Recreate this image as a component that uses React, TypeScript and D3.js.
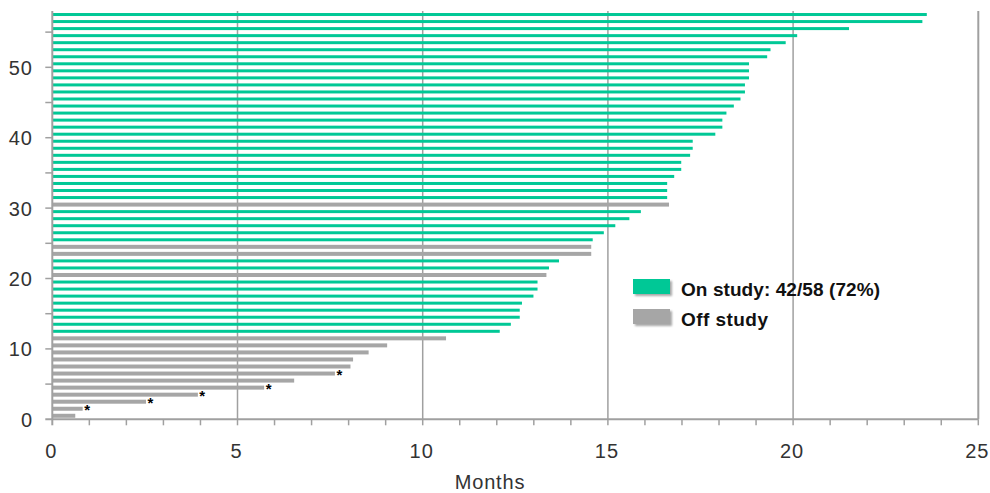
import React from "react";
import * as d3 from "d3";

// Months on study for each patient, patient 1 (bottom) to 58 (top)
const months: number[] = [
  0.62, 0.82, 2.53, 3.93, 5.72, 6.53, 7.63, 8.05, 8.12, 8.54,
  9.04, 10.63, 12.08, 12.38, 12.62, 12.62, 12.68, 12.99, 13.1, 13.1,
  13.34, 13.41, 13.68, 14.55, 14.55, 14.59, 14.89, 15.2, 15.58, 15.89,
  16.65, 16.6, 16.6, 16.6, 16.79, 16.98, 16.98, 17.22, 17.29, 17.29,
  17.9, 18.09, 18.09, 18.2, 18.4, 18.58, 18.7, 18.7, 18.81, 18.81,
  18.81, 19.3, 19.39, 19.8, 20.11, 21.51, 23.49, 23.61,
];
// Patients who went off study
const offStudyIds: number[] = [1, 2, 3, 4, 5, 6, 7, 8, 9, 10, 11, 12, 21, 24, 25, 31];
// Patients flagged with an asterisk
const starredIds: number[] = [2, 3, 4, 5, 7];

const xTicks: number[] = [0, 5, 10, 15, 20, 25];
const yTicks: number[] = [0, 10, 20, 30, 40, 50];
const legendLabels: string[] = ["On study: 42/58 (72%)", "Off study"];
const legendWidths: number[] = [199, 87];

const GREEN = "#00C896";
const GREY = "#A6A6A6";
const AXIS = "#A0A0A0";
const FONT = "'Liberation Sans', Arial, sans-serif";

export default function App() {
  const W = 990;
  const H = 493;
  const x = d3.scaleLinear().domain([0, 25]).range([52.3, 978.3]);
  const y = d3.scaleLinear().domain([0, 58]).range([419.3, 11]);
  const ids = d3.range(1, months.length + 1);
  const minor = d3.range(1, 26);
  const yMinor = d3.range(5, 58, 5);

  return (
    <svg
      width={W}
      height={H}
      style={{ position: "absolute", left: 0, top: 0, background: "#fff" }}
    >
      <defs>
        <filter id="sw" x="-20%" y="-30%" width="150%" height="180%">
          <feGaussianBlur in="SourceAlpha" stdDeviation="1.2" />
          <feOffset dx="1.5" dy="1.5" result="b" />
          <feComponentTransfer>
            <feFuncA type="linear" slope="0.35" />
          </feComponentTransfer>
          <feMerge>
            <feMergeNode />
            <feMergeNode in="SourceGraphic" />
          </feMerge>
        </filter>
      </defs>

      {/* vertical gridlines */}
      {xTicks.slice(1).map((t) => (
        <line
          key={"g" + t}
          x1={x(t)}
          x2={x(t)}
          y1={y(58)}
          y2={y(0)}
          stroke={AXIS}
          strokeWidth={t === 25 ? 2 : 1.5}
        />
      ))}

      {/* bars */}
      {ids.map((id, i) => {
        const off = offStudyIds.includes(id);
        const h = off ? 4 : 3;
        return (
          <rect
            key={"b" + id}
            x={x(0)}
            y={y(id - 0.5) - h / 2}
            width={x(months[i]) - x(0)}
            height={h}
            fill={off ? GREY : GREEN}
          />
        );
      })}

      {/* asterisks */}
      {starredIds.map((id) => (
        <text
          key={"s" + id}
          x={x(months[id - 1]) + 1.5}
          y={y(id - 0.5) + 6.5}
          fontSize={15}
          fontWeight="bold"
          fontFamily={FONT}
          fill="#000"
        >
          *
        </text>
      ))}

      {/* axes */}
      <line x1={x(0)} x2={x(0)} y1={y(58)} y2={y(0)} stroke={AXIS} strokeWidth={2} />
      <line x1={x(0) - 7} x2={x(25)} y1={y(0)} y2={y(0)} stroke={AXIS} strokeWidth={2} />
      {minor.map((t) => (
        <line key={"mx" + t} x1={x(t)} x2={x(t)} y1={y(0)} y2={y(0) + 6} stroke={AXIS} strokeWidth={1.5} />
      ))}
      <line x1={x(0)} x2={x(0)} y1={y(0)} y2={y(0) + 6} stroke={AXIS} strokeWidth={2} />
      {yMinor.map((t) => (
        <line key={"my" + t} x1={x(0) - 7} x2={x(0)} y1={y(t)} y2={y(t)} stroke={AXIS} strokeWidth={1.5} />
      ))}

      {/* tick labels */}
      {xTicks.map((t) => (
        <text
          key={"xt" + t}
          x={x(t) - 1}
          y={458}
          textAnchor="middle"
          fontSize={20}
          fontFamily={FONT}
          fill="#333"
          letterSpacing={1}
        >
          {t}
        </text>
      ))}
      {yTicks.map((t) => (
        <text
          key={"yt" + t}
          x={33}
          y={y(t) + 7.5}
          textAnchor="end"
          fontSize={20}
          fontFamily={FONT}
          fill="#333"
          letterSpacing={1}
        >
          {t}
        </text>
      ))}
      <text x={490} y={489} textAnchor="middle" fontSize={20} fontFamily={FONT} fill="#333" letterSpacing={0.8}>
        Months
      </text>

      {/* legend */}
      {legendLabels.map((label, i) => (
        <g key={"l" + i} transform={`translate(633, ${279 + i * 30})`}>
          <rect width={37} height={15} fill={i === 0 ? GREEN : GREY} filter="url(#sw)" />
          <text
            x={48}
            y={17}
            fontSize={19}
            fontWeight="bold"
            fontFamily={FONT}
            fill="#111"
            textLength={legendWidths[i]}
            lengthAdjust="spacing"
          >
            {label}
          </text>
        </g>
      ))}
    </svg>
  );
}
